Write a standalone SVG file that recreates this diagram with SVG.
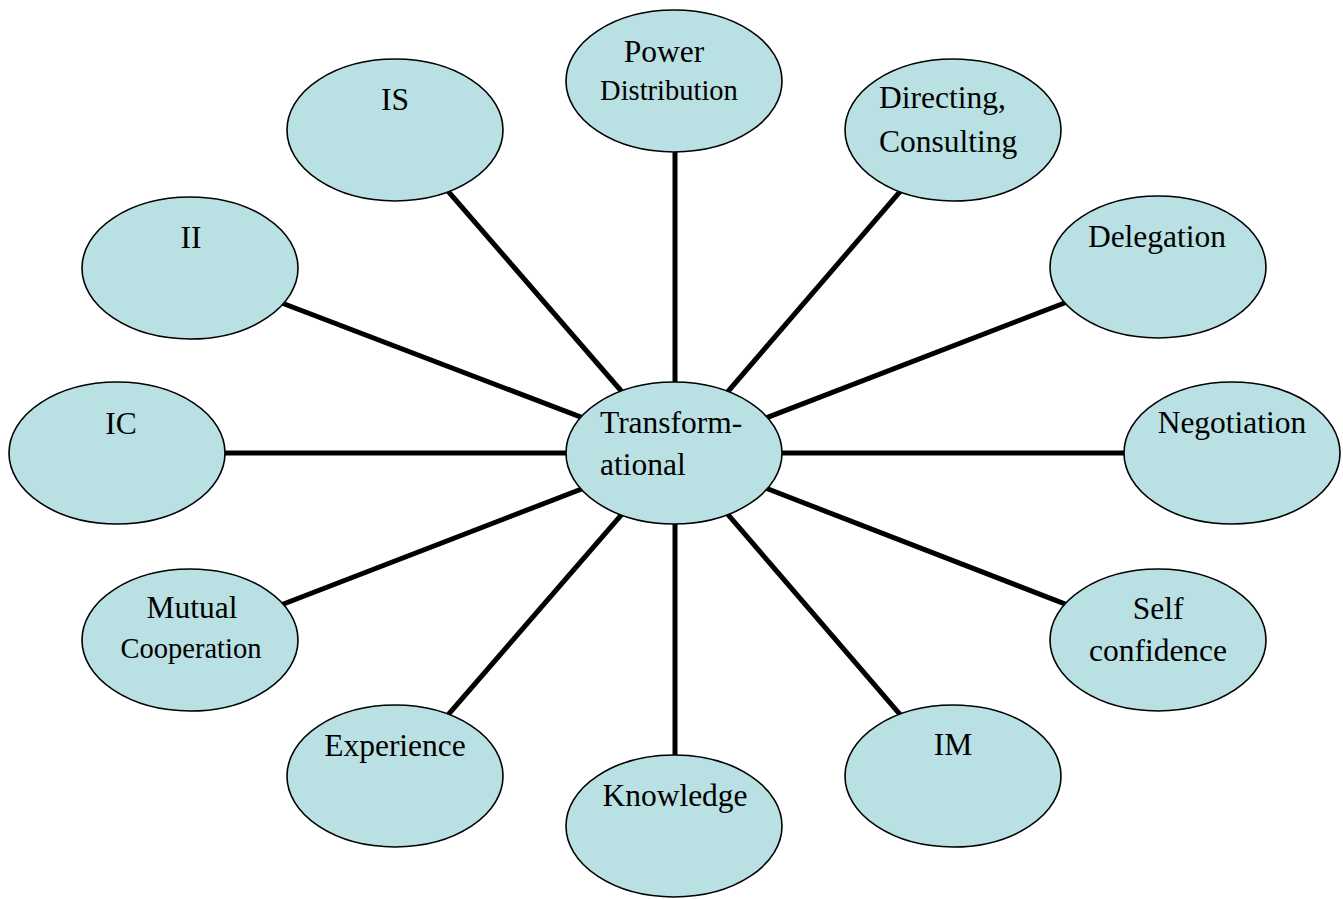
<svg xmlns="http://www.w3.org/2000/svg" width="1343" height="899" viewBox="0 0 1343 899">
<style>
.n{fill:#b9e0e3;stroke:#000;stroke-width:1.6}
.t{font-family:"Liberation Serif","Times New Roman",serif;font-size:31.5px;fill:#000;text-anchor:middle}
.s{font-size:28.5px}
.l{text-anchor:start}
#edges line{stroke:#000;stroke-width:5}
</style>
<rect width="1343" height="899" fill="#fff"/>
<g id="edges">
<line x1="675" y1="453" x2="675" y2="81"/>
<line x1="675" y1="453" x2="395" y2="130"/>
<line x1="675" y1="453" x2="953" y2="130"/>
<line x1="675" y1="453" x2="190" y2="268"/>
<line x1="675" y1="453" x2="1158" y2="267"/>
<line x1="675" y1="453" x2="117" y2="453"/>
<line x1="675" y1="453" x2="1232" y2="453"/>
<line x1="675" y1="453" x2="190" y2="640"/>
<line x1="675" y1="453" x2="1158" y2="640"/>
<line x1="675" y1="453" x2="395" y2="776"/>
<line x1="675" y1="453" x2="953" y2="776"/>
<line x1="675" y1="453" x2="675" y2="826"/>
</g>
<g id="power"><ellipse class="n" cx="674" cy="81" rx="108" ry="71"/><text class="t" x="664" y="62">Power</text><text class="t s" x="669" y="100">Distribution</text></g>
<g id="is"><ellipse class="n" cx="395" cy="130" rx="108" ry="71"/><text class="t" x="395" y="110">IS</text></g>
<g id="directing"><ellipse class="n" cx="953" cy="130" rx="108" ry="71"/><text class="t l" x="879" y="108">Directing,</text><text class="t l" x="879" y="152">Consulting</text></g>
<g id="ii"><ellipse class="n" cx="190" cy="268" rx="108" ry="71"/><text class="t" x="191" y="248">II</text></g>
<g id="delegation"><ellipse class="n" cx="1158" cy="267" rx="108" ry="71"/><text class="t" x="1157" y="247">Delegation</text></g>
<g id="ic"><ellipse class="n" cx="117" cy="453" rx="108" ry="71"/><text class="t" x="121" y="434">IC</text></g>
<g id="negotiation"><ellipse class="n" cx="1232" cy="453" rx="108" ry="71"/><text class="t" x="1232" y="433">Negotiation</text></g>
<g id="mutual"><ellipse class="n" cx="190" cy="640" rx="108" ry="71"/><text class="t" x="192" y="618">Mutual</text><text class="t s" x="191" y="658">Cooperation</text></g>
<g id="self"><ellipse class="n" cx="1158" cy="640" rx="108" ry="71"/><text class="t" x="1158" y="619">Self</text><text class="t" x="1158" y="661">confidence</text></g>
<g id="experience"><ellipse class="n" cx="395" cy="776" rx="108" ry="71"/><text class="t" x="395" y="756">Experience</text></g>
<g id="im"><ellipse class="n" cx="953" cy="776" rx="108" ry="71"/><text class="t" x="953" y="755">IM</text></g>
<g id="knowledge"><ellipse class="n" cx="674" cy="826" rx="108" ry="71"/><text class="t" x="675" y="806">Knowledge</text></g>
<g id="center"><ellipse class="n" cx="674" cy="453" rx="108" ry="71"/><text class="t l" x="600" y="433">Transform-</text><text class="t l" x="600" y="475">ational</text></g>
</svg>
